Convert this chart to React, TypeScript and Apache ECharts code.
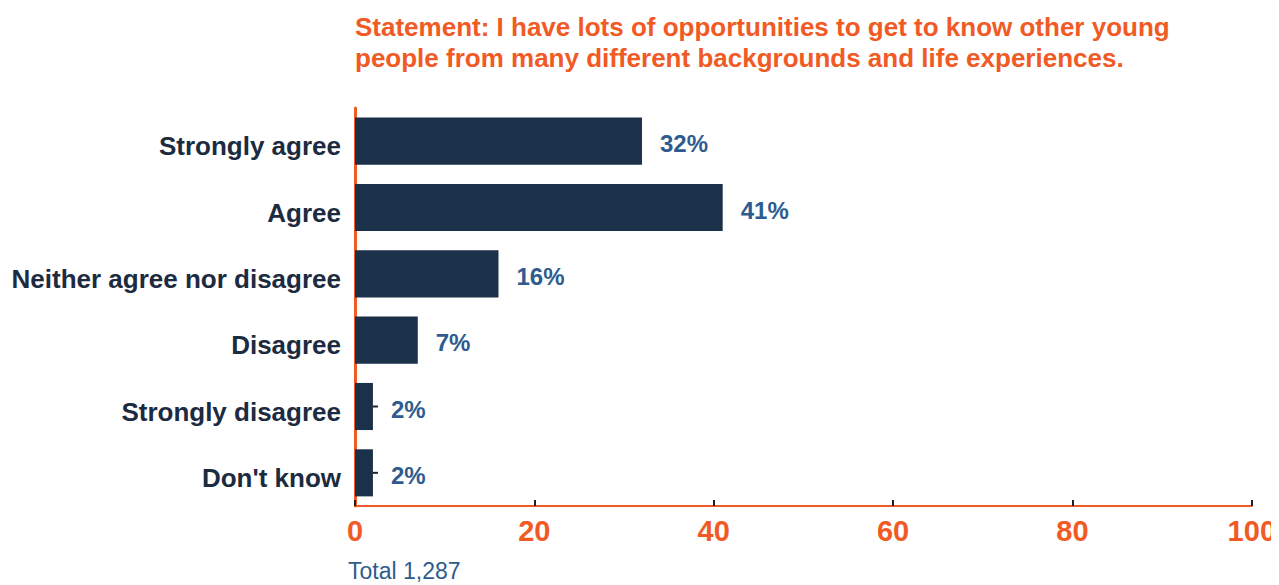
import React, { useEffect, useRef } from "react";
import * as echarts from "echarts";

const categories = [
  "Strongly agree",
  "Agree",
  "Neither agree nor disagree",
  "Disagree",
  "Strongly disagree",
  "Don't know",
];
const values = [32, 41, 16, 7, 2, 2];
const xTicks = [0, 20, 40, 60, 80, 100];
const titleLines = [
  "Statement: I have lots of opportunities to get to know other young",
  "people from many different backgrounds and life experiences.",
];
const footnote = "Total 1,287";
const leaderCategories = ["Strongly disagree", "Don't know"];

const ORANGE = "#f15a24";
const NAVY = "#1b3149";
const BLUE = "#2e5c8f";
const FONT = "'Liberation Sans', Arial, sans-serif";

export default function App() {
  const ref = useRef<HTMLDivElement>(null);
  useEffect(() => {
    if (!ref.current) return;
    const chart = echarts.init(ref.current, null, { renderer: "svg" });
    const leaderData = categories
      .map((c, i) => (leaderCategories.includes(c) ? [values[i], c] : null))
      .filter((d) => d !== null);
    chart.setOption({
      animation: false,
      textStyle: { fontFamily: FONT },
      title: {
        text: titleLines.join("\n"),
        left: 350,
        top: 6,
        textStyle: {
          color: ORANGE,
          fontSize: 26,
          fontWeight: "bold",
          fontFamily: FONT,
          lineHeight: 31,
        },
      },
      graphic: [
        {
          type: "text",
          left: 348,
          top: 559,
          style: {
            text: footnote,
            fill: BLUE,
            fontSize: 23,
            fontFamily: FONT,
          },
        },
      ],
      grid: { left: 355, right: 24, top: 108, bottom: 79, containLabel: false },
      xAxis: {
        type: "value",
        min: xTicks[0],
        max: xTicks[xTicks.length - 1],
        interval: 20,
        axisLine: { show: true, lineStyle: { color: ORANGE, width: 2 } },
        axisTick: {
          show: true,
          inside: true,
          length: 6,
          lineStyle: { color: "#222", width: 2 },
        },
        splitLine: { show: false },
        axisLabel: {
          color: ORANGE,
          fontSize: 29,
          fontWeight: "bold",
          fontFamily: FONT,
          margin: 10,
        },
      },
      yAxis: {
        type: "category",
        data: categories,
        inverse: true,
        axisLine: { show: true, lineStyle: { color: ORANGE, width: 3 } },
        axisTick: { show: false },
        axisLabel: {
          margin: 14,
          formatter: "{a|{value}}",
          rich: {
            a: {
              color: "#1c2b3f",
              fontSize: 26,
              fontWeight: "bold",
              fontFamily: FONT,
              padding: [10, 0, 0, 0],
            },
          },
        },
      },
      series: [
        {
          type: "bar",
          data: values,
          barCategoryGap: "29%",
          itemStyle: { color: NAVY },
          label: {
            show: true,
            position: "right",
            distance: 18,
            formatter: "{a|{c}%}",
            rich: {
              a: {
                color: BLUE,
                fontSize: 24,
                fontWeight: "bold",
                fontFamily: FONT,
                padding: [5, 0, 0, 0],
              },
            },
          },
          z: 2,
        },
        {
          type: "custom",
          data: leaderData,
          renderItem: (params: any, api: any) => {
            const p = api.coord([api.value(0), api.value(1)]);
            return {
              type: "line",
              shape: { x1: p[0], y1: p[1], x2: p[0] + 5, y2: p[1] },
              style: { stroke: "#222", lineWidth: 2 },
            };
          },
          encode: { x: 0, y: 1 },
          z: 3,
        },
      ],
    });
    return () => chart.dispose();
  }, []);
  return <div ref={ref} style={{ width: 1279, height: 585, marginLeft: -8, marginTop: -8 }} />;
}
